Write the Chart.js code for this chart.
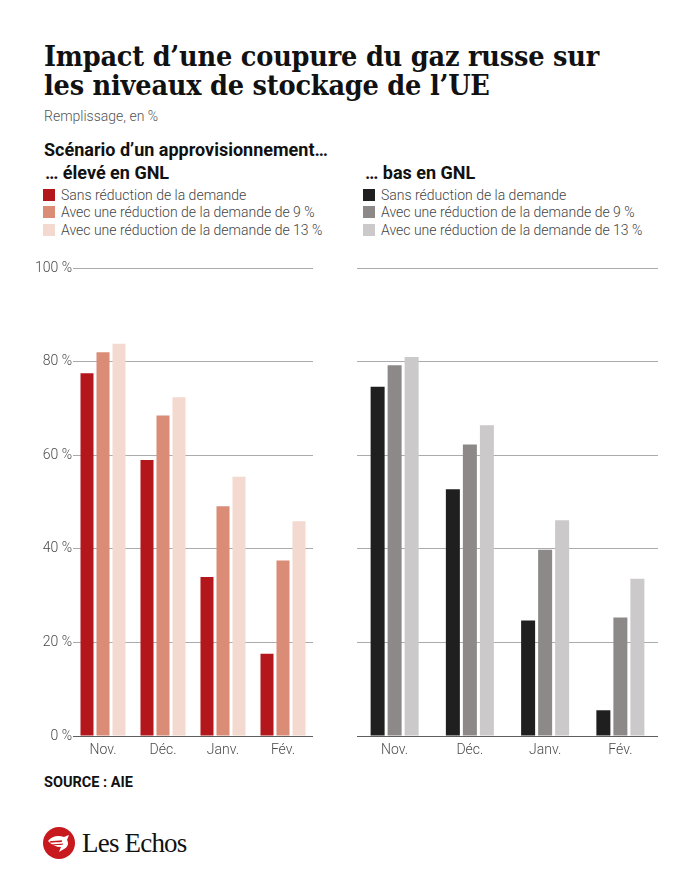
<!DOCTYPE html>
<html lang="fr">
<head>
<meta charset="utf-8">
<script src="https://cdn.jsdelivr.net/npm/chart.js@4/dist/chart.umd.min.js"></script>
<style>
  html, body { margin:0; padding:0; background:#fff; }
  body { width:696px; height:870px; position:relative; overflow:hidden; font-family:Roboto, "Liberation Sans", sans-serif; }
  .abs { position:absolute; }
  #title { left:44px; top:42px; font-family:"DejaVu Serif", serif; font-stretch:condensed; font-weight:700; font-size:28.5px; line-height:29px; color:#111; letter-spacing:-0.2px; white-space:nowrap; }
  #sub { left:44px; top:108px; font-size:14px; color:#555; font-weight:300; }
  #scen { left:44px; top:139px; font-size:18px; font-weight:700; color:#111; }
  .lgtitle { font-size:18px; font-weight:700; color:#111; }
  .lg { font-size:14px; font-weight:300; color:#444; }
  .lg .row { display:flex; align-items:center; height:17.5px; }
  .lg .sw { width:12px; height:12px; margin-right:6px; flex:none; }
  #src { left:44px; top:774px; font-size:14.5px; font-weight:700; color:#111; }
  #logo { left:42px; top:826px; display:flex; align-items:center; }
  #logo span { font-family:"Liberation Serif", serif; font-size:27px; color:#111; letter-spacing:-0.8px; margin-left:6px; }
  canvas { display:block; }
</style>
</head>
<body>
<div id="title" class="abs">Impact d’une coupure du gaz russe sur<br>les niveaux de stockage de l’UE</div>
<div id="sub" class="abs">Remplissage, en %</div>
<div id="scen" class="abs">Scénario d’un approvisionnement…</div>

<div class="abs lgtitle" style="left:45px;top:162px;">… élevé en GNL</div>
<div id="lgLeft" class="abs lg" style="left:43px;top:186px;"></div>
<div class="abs lgtitle" style="left:365px;top:162px;">… bas en GNL</div>
<div id="lgRight" class="abs lg" style="left:363px;top:186px;"></div>

<div class="abs" style="left:0;top:250px;width:330px;height:516px;"><canvas id="c1" width="330" height="516"></canvas></div>
<div class="abs" style="left:340px;top:250px;width:340px;height:516px;"><canvas id="c2" width="340" height="516"></canvas></div>

<div id="src" class="abs">SOURCE : AIE</div>
<div id="logo" class="abs">
  <svg width="34" height="34" viewBox="0 0 34 34">
    <circle cx="17" cy="17" r="16" fill="#c8191e"/>
    <path d="M6 15 C10 10, 16 9, 22 11 L27 9 L25 14 C27 17, 26 21, 22 23 L17 26 L19 21 C14 21, 10 19, 6 15 Z" fill="#fff"/>
    <path d="M8 16 C12 15, 16 16, 20 15" stroke="#c8191e" stroke-width="1.4" fill="none"/>
    <path d="M10 19 C13 18, 17 19, 21 18" stroke="#c8191e" stroke-width="1.2" fill="none"/>
  </svg>
  <span>Les Echos</span>
</div>

<script>
// ---- Data ----
const months = ['Nov.', 'Déc.', 'Janv.', 'Fév.'];
const seriesNames = ['Sans réduction de la demande', 'Avec une réduction de la demande de 9 %', 'Avec une réduction de la demande de 13 %'];
// Scénario approvisionnement élevé en GNL
const eleveSans = [77.5, 59, 34, 17.6];
const eleve9    = [82, 68.5, 49.1, 37.5];
const eleve13   = [83.8, 72.4, 55.4, 45.9];
// Scénario approvisionnement bas en GNL
const basSans = [74.6, 52.7, 24.7, 5.5];
const bas9    = [79.2, 62.3, 39.8, 25.3];
const bas13   = [81.0, 66.4, 46.1, 33.6];
const yTickValues = [0, 20, 40, 60, 80, 100];

const redColors  = ['#b3171c', '#da8c77', '#f3d9cf'];
const greyColors = ['#1f1f1f', '#8d8989', '#cbc9c9'];

function legend(id, colors) {
  const el = document.getElementById(id);
  seriesNames.forEach((n, i) => {
    const r = document.createElement('div'); r.className = 'row';
    r.innerHTML = '<div class="sw" style="background:' + colors[i] + '"></div><div>' + n + '</div>';
    el.appendChild(r);
  });
}
legend('lgLeft', redColors);
legend('lgRight', greyColors);

Chart.defaults.font.family = 'Roboto, "Liberation Sans", sans-serif';
Chart.defaults.animation = false;

function makeChart(canvasId, data, colors, opts) {
  return new Chart(document.getElementById(canvasId), {
    type: 'bar',
    data: {
      labels: months,
      datasets: data.map((d, i) => ({
        label: seriesNames[i], data: d, backgroundColor: colors[i], borderWidth: 0,
        categoryPercentage: opts.catPct, barPercentage: opts.barPct
      }))
    },
    options: {
      responsive: false,
      maintainAspectRatio: false,
      layout: { padding: opts.padding },
      plugins: { legend: { display: false }, tooltip: { enabled: false } },
      scales: {
        x: {
          grid: { display: false, drawTicks: false },
          border: { display: false },
          ticks: { color: '#4a4a4a', font: { size: 14, weight: 300 }, padding: 6, maxRotation: 0 },
          afterFit: s => { s.height = 30; }
        },
        y: {
          min: 0, max: 100, z: 1,
          afterBuildTicks: s => { s.ticks = yTickValues.map(v => ({ value: v })); },
          grid: {
            drawTicks: false,
            color: c => c.tick && c.tick.value === 0 ? 'rgba(40,40,40,0.75)' : 'rgba(0,0,0,0.33)',
            lineWidth: 1
          },
          border: { display: false },
          ticks: {
            display: opts.showTicks, color: '#4a4a4a', font: { size: 14, weight: 300 }, padding: 1,
            callback: v => v + ' %'
          },
          afterFit: s => { s.width = opts.yWidth; }
        }
      }
    }
  });
}

makeChart('c1', [eleveSans, eleve9, eleve13], redColors,
  { catPct: 0.8, barPct: 0.8125, padding: { left: 0, right: 17, top: 18, bottom: 0 }, showTicks: true, yWidth: 73 });
makeChart('c2', [basSans, bas9, bas13], greyColors,
  { catPct: 0.678, barPct: 0.8235, padding: { left: 17, right: 22, top: 18, bottom: 0 }, showTicks: false, yWidth: 0 });
</script>
</body>
</html>
